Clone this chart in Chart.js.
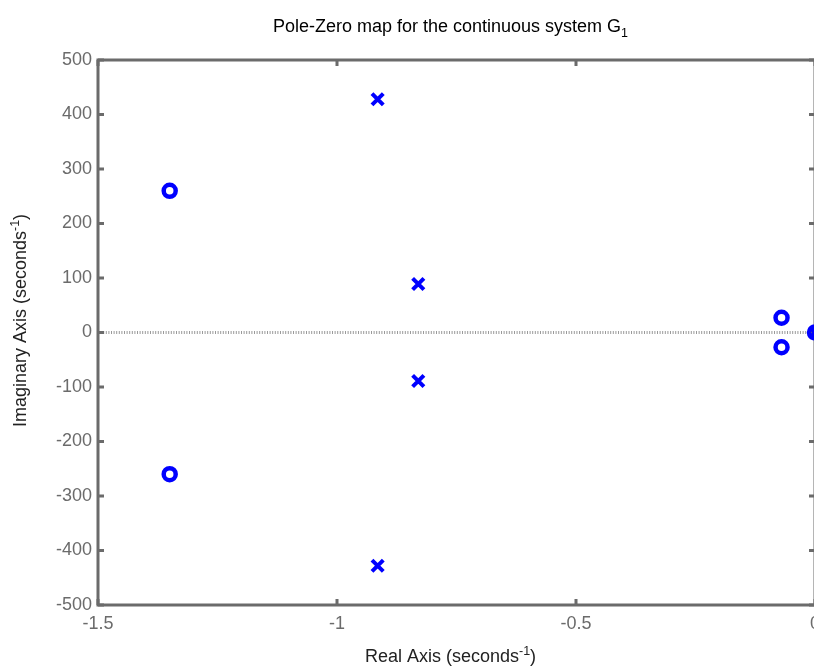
<!DOCTYPE html>
<html>
<head>
<meta charset="utf-8">
<script src="https://cdn.jsdelivr.net/npm/chart.js@4.4.0/dist/chart.umd.min.js"></script>
<style>
  html, body { margin: 0; padding: 0; background: #fff; overflow: hidden; }
  #wrap { position: absolute; left: 0; top: 0; width: 830px; height: 668px; }
</style>
</head>
<body>
<div id="wrap"><canvas id="pz" width="830" height="668"></canvas></div>
<script>
// zeros (o) and poles (x)
var zeroRe = [-1.35, -1.35, -0.07, -0.07, 0];
var zeroIm = [260, -260, 27, -27, 0];
var poleRe = [-0.915, -0.915, -0.83, -0.83, 0];
var poleIm = [428, -428, 89, -89, 0];

var xTicks = [-1.5, -1, -0.5, 0];
var yTicks = [-500, -400, -300, -200, -100, 0, 100, 200, 300, 400, 500];

// titles, split so the sub/superscripts can be drawn raised or lowered
var titleParts = [{t: 'Pole-Zero map for the continuous system G', s: 18, dy: 0}, {t: '1', s: 12.5, dy: 5}];
var xTitleParts = [{t: 'Real Axis (seconds', s: 18, dy: 0}, {t: '-1', s: 12.5, dy: -7}, {t: ')', s: 18, dy: 0}];
var yTitleParts = [{t: 'Imaginary Axis (seconds', s: 18, dy: 0}, {t: '-1', s: 12.5, dy: -7}, {t: ')', s: 18, dy: 0}];

var fontFam = "'Liberation Sans', Arial, sans-serif";
var axisGrey = "#6b6b6b";

function toPoints(re, im) {
  var out = [];
  for (var i = 0; i < re.length; i++) out.push({x: re[i], y: im[i]});
  return out;
}

// draws a run of text pieces centred on x, baseline y (in current transform)
function drawRich(ctx, parts, x, y, color) {
  var w = 0;
  parts.forEach(function(p) {
    ctx.font = p.s + 'px ' + fontFam;
    p.w = ctx.measureText(p.t).width;
    w += p.w;
  });
  var cx = x - w / 2;
  ctx.fillStyle = color;
  ctx.textBaseline = 'alphabetic';
  ctx.textAlign = 'left';
  parts.forEach(function(p) {
    ctx.font = p.s + 'px ' + fontFam;
    ctx.fillText(p.t, cx, y + p.dy);
    cx += p.w;
  });
}

// box around the plot, ticks pointing inwards, dotted line at Im = 0
var framePlugin = {
  id: 'frame',
  beforeDatasetsDraw: function(chart) {
    var a = chart.chartArea, ctx = chart.ctx;
    var xs = chart.scales.x, ys = chart.scales.y;
    ctx.save();
    var y0 = ys.getPixelForValue(0);
    ctx.strokeStyle = "#9a9a9a";
    ctx.lineWidth = 3;
    ctx.setLineDash([1, 1.6]);
    ctx.beginPath();
    ctx.moveTo(a.left, y0);
    ctx.lineTo(a.right, y0);
    ctx.stroke();
    ctx.setLineDash([]);

    ctx.strokeStyle = axisGrey;
    ctx.lineWidth = 3;
    ctx.strokeRect(a.left, a.top, a.right - a.left, a.bottom - a.top);
    var len = 6;
    ctx.beginPath();
    xTicks.forEach(function(v) {
      var px = xs.getPixelForValue(v);
      ctx.moveTo(px, a.top); ctx.lineTo(px, a.top + len);
      ctx.moveTo(px, a.bottom); ctx.lineTo(px, a.bottom - len);
    });
    yTicks.forEach(function(v) {
      var py = ys.getPixelForValue(v);
      ctx.moveTo(a.left, py); ctx.lineTo(a.left + len, py);
      ctx.moveTo(a.right, py); ctx.lineTo(a.right - len, py);
    });
    ctx.stroke();
    ctx.restore();
  },
  afterDraw: function(chart) {
    var a = chart.chartArea, ctx = chart.ctx;
    var midX = (a.left + a.right) / 2 - 6;
    var midY = (a.top + a.bottom) / 2 - 12;
    ctx.save();
    drawRich(ctx, titleParts, midX, a.top - 28, '#000');
    drawRich(ctx, xTitleParts, midX, chart.height - 6, '#222');
    ctx.translate(26, midY);
    ctx.rotate(-Math.PI / 2);
    drawRich(ctx, yTitleParts, 0, 0, '#222');
    ctx.restore();
  }
};

new Chart(document.getElementById('pz'), {
  type: 'scatter',
  data: {
    datasets: [
      {
        label: 'Zeros',
        data: toPoints(zeroRe, zeroIm),
        pointStyle: 'circle',
        pointRadius: 6,
        pointHoverRadius: 6,
        borderWidth: 4.5,
        pointBorderColor: '#0000ff',
        pointBackgroundColor: 'rgba(0,0,0,0)',
        clip: false
      },
      {
        label: 'Poles',
        data: toPoints(poleRe, poleIm),
        pointStyle: 'crossRot',
        pointRadius: 8,
        pointHoverRadius: 8,
        borderWidth: 4,
        pointBorderColor: '#0000ff',
        pointBackgroundColor: '#0000ff',
        clip: false
      }
    ]
  },
  options: {
    responsive: false,
    animation: false,
    layout: { padding: { left: 0, right: 15, top: 60, bottom: 0 } },
    plugins: {
      legend: { display: false },
      tooltip: { enabled: false },
      title: { display: false }
    },
    scales: {
      x: {
        type: 'linear',
        min: -1.5,
        max: 0,
        afterFit: function(scale) { scale.height = 63; },
        afterBuildTicks: function(scale) {
          scale.ticks = xTicks.map(function(v) { return {value: v}; });
        },
        grid: { display: false, drawTicks: false },
        border: { display: false },
        ticks: {
          color: axisGrey,
          padding: 8.5,
          font: { family: fontFam, size: 18 },
          maxRotation: 0,
          callback: function(v) { return String(v); }
        }
      },
      y: {
        type: 'linear',
        min: -500,
        max: 500,
        afterFit: function(scale) { scale.width = 98; },
        afterBuildTicks: function(scale) {
          scale.ticks = yTicks.map(function(v) { return {value: v}; });
        },
        grid: { display: false, drawTicks: false },
        border: { display: false },
        ticks: {
          color: axisGrey,
          padding: 6,
          font: { family: fontFam, size: 18 },
          callback: function(v) { return String(v); }
        }
      }
    }
  },
  plugins: [framePlugin]
});
</script>
</body>
</html>
